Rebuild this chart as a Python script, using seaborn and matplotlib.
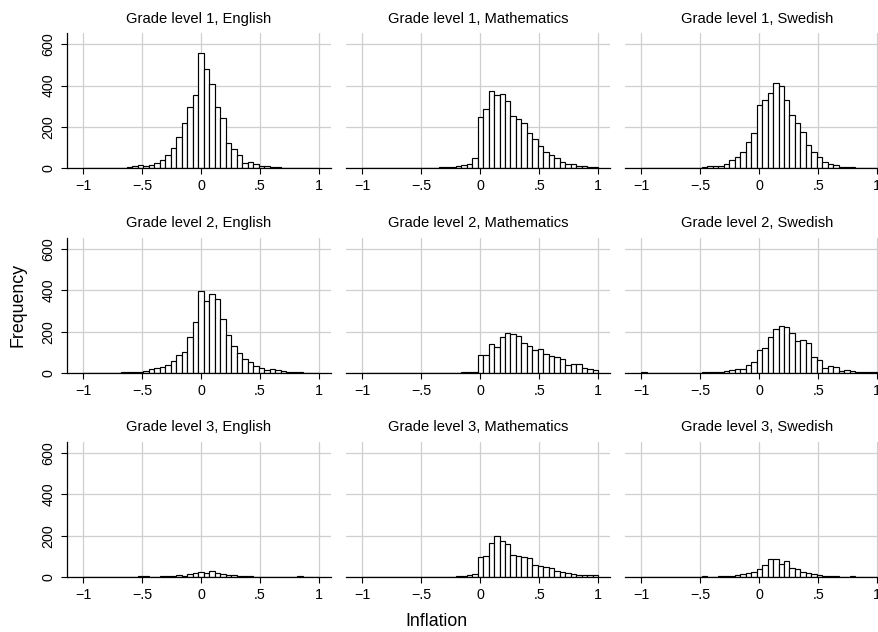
import numpy as np
import pandas as pd
import matplotlib
matplotlib.use("Agg")
import matplotlib.pyplot as plt
import seaborn as sns

# ---------------- data (counts per bin, 43 bins of equal width on [-1, 1]) ----------------
grades = ["Grade level 1", "Grade level 2", "Grade level 3"]
subjects = ["English", "Mathematics", "Swedish"]

g1_english = [1, 0, 0, 0, 0, 0, 2, 3, 6, 10, 15, 11, 18, 24, 42, 62, 100, 150, 218, 295, 355,
              560, 479, 410, 295, 243, 121, 94, 66, 27, 31, 19, 11, 10, 6, 5, 3, 2, 1, 1, 0, 0, 0]
g1_math = [0, 0, 0, 0, 0, 0, 0, 0, 1, 0, 2, 2, 3, 3, 4, 5, 6, 13, 16, 23, 52,
           250, 287, 376, 356, 361, 326, 253, 237, 218, 169, 141, 106, 77, 64, 52, 32, 22, 22, 11, 11, 6, 5]
g1_swedish = [0, 0, 0, 0, 0, 0, 1, 2, 2, 3, 3, 5, 10, 11, 11, 23, 40, 53, 77, 127, 169,
              306, 329, 363, 415, 397, 329, 258, 218, 174, 115, 79, 55, 29, 19, 18, 8, 5, 4, 2, 1, 0, 0]
g2_english = [0, 0, 0, 0, 0, 1, 2, 3, 3, 5, 6, 10, 18, 23, 29, 39, 60, 87, 103, 176, 247,
              398, 347, 381, 356, 261, 186, 131, 95, 68, 55, 34, 26, 15, 18, 13, 8, 6, 5, 3, 2, 0, 0]
g2_math = [0, 0, 0, 0, 0, 0, 0, 0, 0, 0, 2, 1, 0, 2, 2, 2, 0, 2, 3, 5, 6,
           87, 89, 140, 124, 173, 192, 187, 181, 147, 132, 111, 115, 90, 81, 77, 66, 37, 44, 42, 24, 18, 15]
g2_swedish = [3, 0, 0, 0, 0, 0, 0, 0, 0, 1, 2, 3, 3, 5, 6, 10, 15, 19, 21, 37, 52,
              111, 119, 176, 211, 227, 223, 195, 153, 161, 144, 79, 61, 26, 34, 29, 10, 13, 11, 5, 5, 6, 3]
g3_english = [0, 0, 0, 0, 0, 0, 0, 0, 0, 2, 3, 3, 1, 2, 3, 3, 5, 8, 6, 13, 19,
              23, 18, 31, 18, 15, 10, 8, 6, 5, 3, 2, 0, 0, 0, 0, 0, 0, 0, 3, 0, 0, 0]
g3_math = [0, 0, 0, 0, 0, 0, 0, 0, 0, 0, 0, 0, 0, 1, 1, 2, 2, 3, 3, 8, 15,
           97, 100, 166, 198, 176, 161, 108, 102, 98, 92, 58, 55, 50, 44, 31, 23, 21, 16, 11, 10, 8, 8]
g3_swedish = [0, 0, 0, 0, 0, 0, 0, 0, 0, 0, 1, 3, 0, 2, 3, 5, 6, 8, 13, 18, 26,
              40, 56, 85, 89, 61, 76, 45, 37, 26, 19, 15, 11, 6, 5, 3, 2, 1, 3, 0, 0, 0, 0]

panel_counts = [[g1_english, g1_math, g1_swedish],
                [g2_english, g2_math, g2_swedish],
                [g3_english, g3_math, g3_swedish]]

x_ticks = [-1, -0.5, 0, 0.5, 1]
x_ticklabels = ["\u22121", "\u2212.5", "0", ".5", "1"]
y_ticks = [0, 200, 400, 600]
y_ticklabels = ["0", "200", "400", "600"]
x_label = "Inflation"
y_label = "Frequency"

n_bins = 43
edges = np.linspace(-1, 1, n_bins + 1)
centers = (edges[:-1] + edges[1:]) / 2

# ---------------- styling ----------------
sns.set_theme(style="white")
plt.rcParams["font.family"] = ["Liberation Sans", "DejaVu Sans"]

W, H = 879, 632
fig = plt.figure(figsize=(W / 100, H / 100), dpi=100)

xlim = (-1.136, 1.10)
ylim = (0, 655)
px_per_unit = 118.0
ax_w = (xlim[1] - xlim[0]) * px_per_unit
col_xm1 = [83.0, 362.3, 641.3]         # pixel x of value -1 in each column
row_bottom = [168.3, 373.0, 577.0]     # pixel y of zero line in each row
ax_h = 135.3

grid_color = "#cfcfcf"

for r in range(3):
    for c in range(3):
        left_px = col_xm1[c] - (-1 - xlim[0]) * px_per_unit
        bottom_px = row_bottom[r]
        ax = fig.add_axes([left_px / W, 1 - bottom_px / H, ax_w / W, ax_h / H])
        df = pd.DataFrame({"Inflation": centers, "count": panel_counts[r][c]})
        sns.histplot(data=df, x="Inflation", weights="count", bins=list(edges), ax=ax,
                     stat="count", color="white", edgecolor="black",
                     linewidth=0.85, alpha=1.0)
        ax.set_xlim(*xlim)
        ax.set_ylim(*ylim)
        ax.set_axisbelow(True)
        ax.set_xticks(x_ticks)
        ax.set_xticklabels(x_ticklabels)
        ax.set_yticks(y_ticks)
        ax.grid(True, color=grid_color, linewidth=0.9)
        ax.set_xlabel("")
        ax.set_ylabel("")
        for s in ["top", "right"]:
            ax.spines[s].set_visible(False)
        ax.spines["bottom"].set_color("black")
        ax.spines["bottom"].set_linewidth(0.9)
        ax.tick_params(axis="x", length=4.3, width=0.8, color="black",
                       labelsize=10.3, pad=3.5, bottom=True, labelcolor="black")
        if c == 0:
            ax.spines["left"].set_color("black")
            ax.spines["left"].set_linewidth(0.9)
            ax.set_yticklabels(y_ticklabels)
            ax.tick_params(axis="y", length=4.3, width=0.8, color="black",
                           labelsize=10.3, pad=4, left=True, labelrotation=90,
                           labelcolor="black")
            for t in ax.get_yticklabels():
                t.set_va("center")
        else:
            ax.spines["left"].set_visible(False)
            ax.tick_params(axis="y", left=False, labelleft=False)
        ax.set_title(f"{grades[r]}, {subjects[c]}", fontsize=10.6, pad=7.5,
                     color="black")

fig.text(18 / W, 1 - 305 / H, y_label, rotation=90, ha="center", va="center",
         fontsize=12.8, color="black")
fig.text(436 / W, 1 - 621 / H, x_label, ha="center", va="center",
         fontsize=12.8, color="black")

fig.savefig("out.png", dpi=100, facecolor="white")
